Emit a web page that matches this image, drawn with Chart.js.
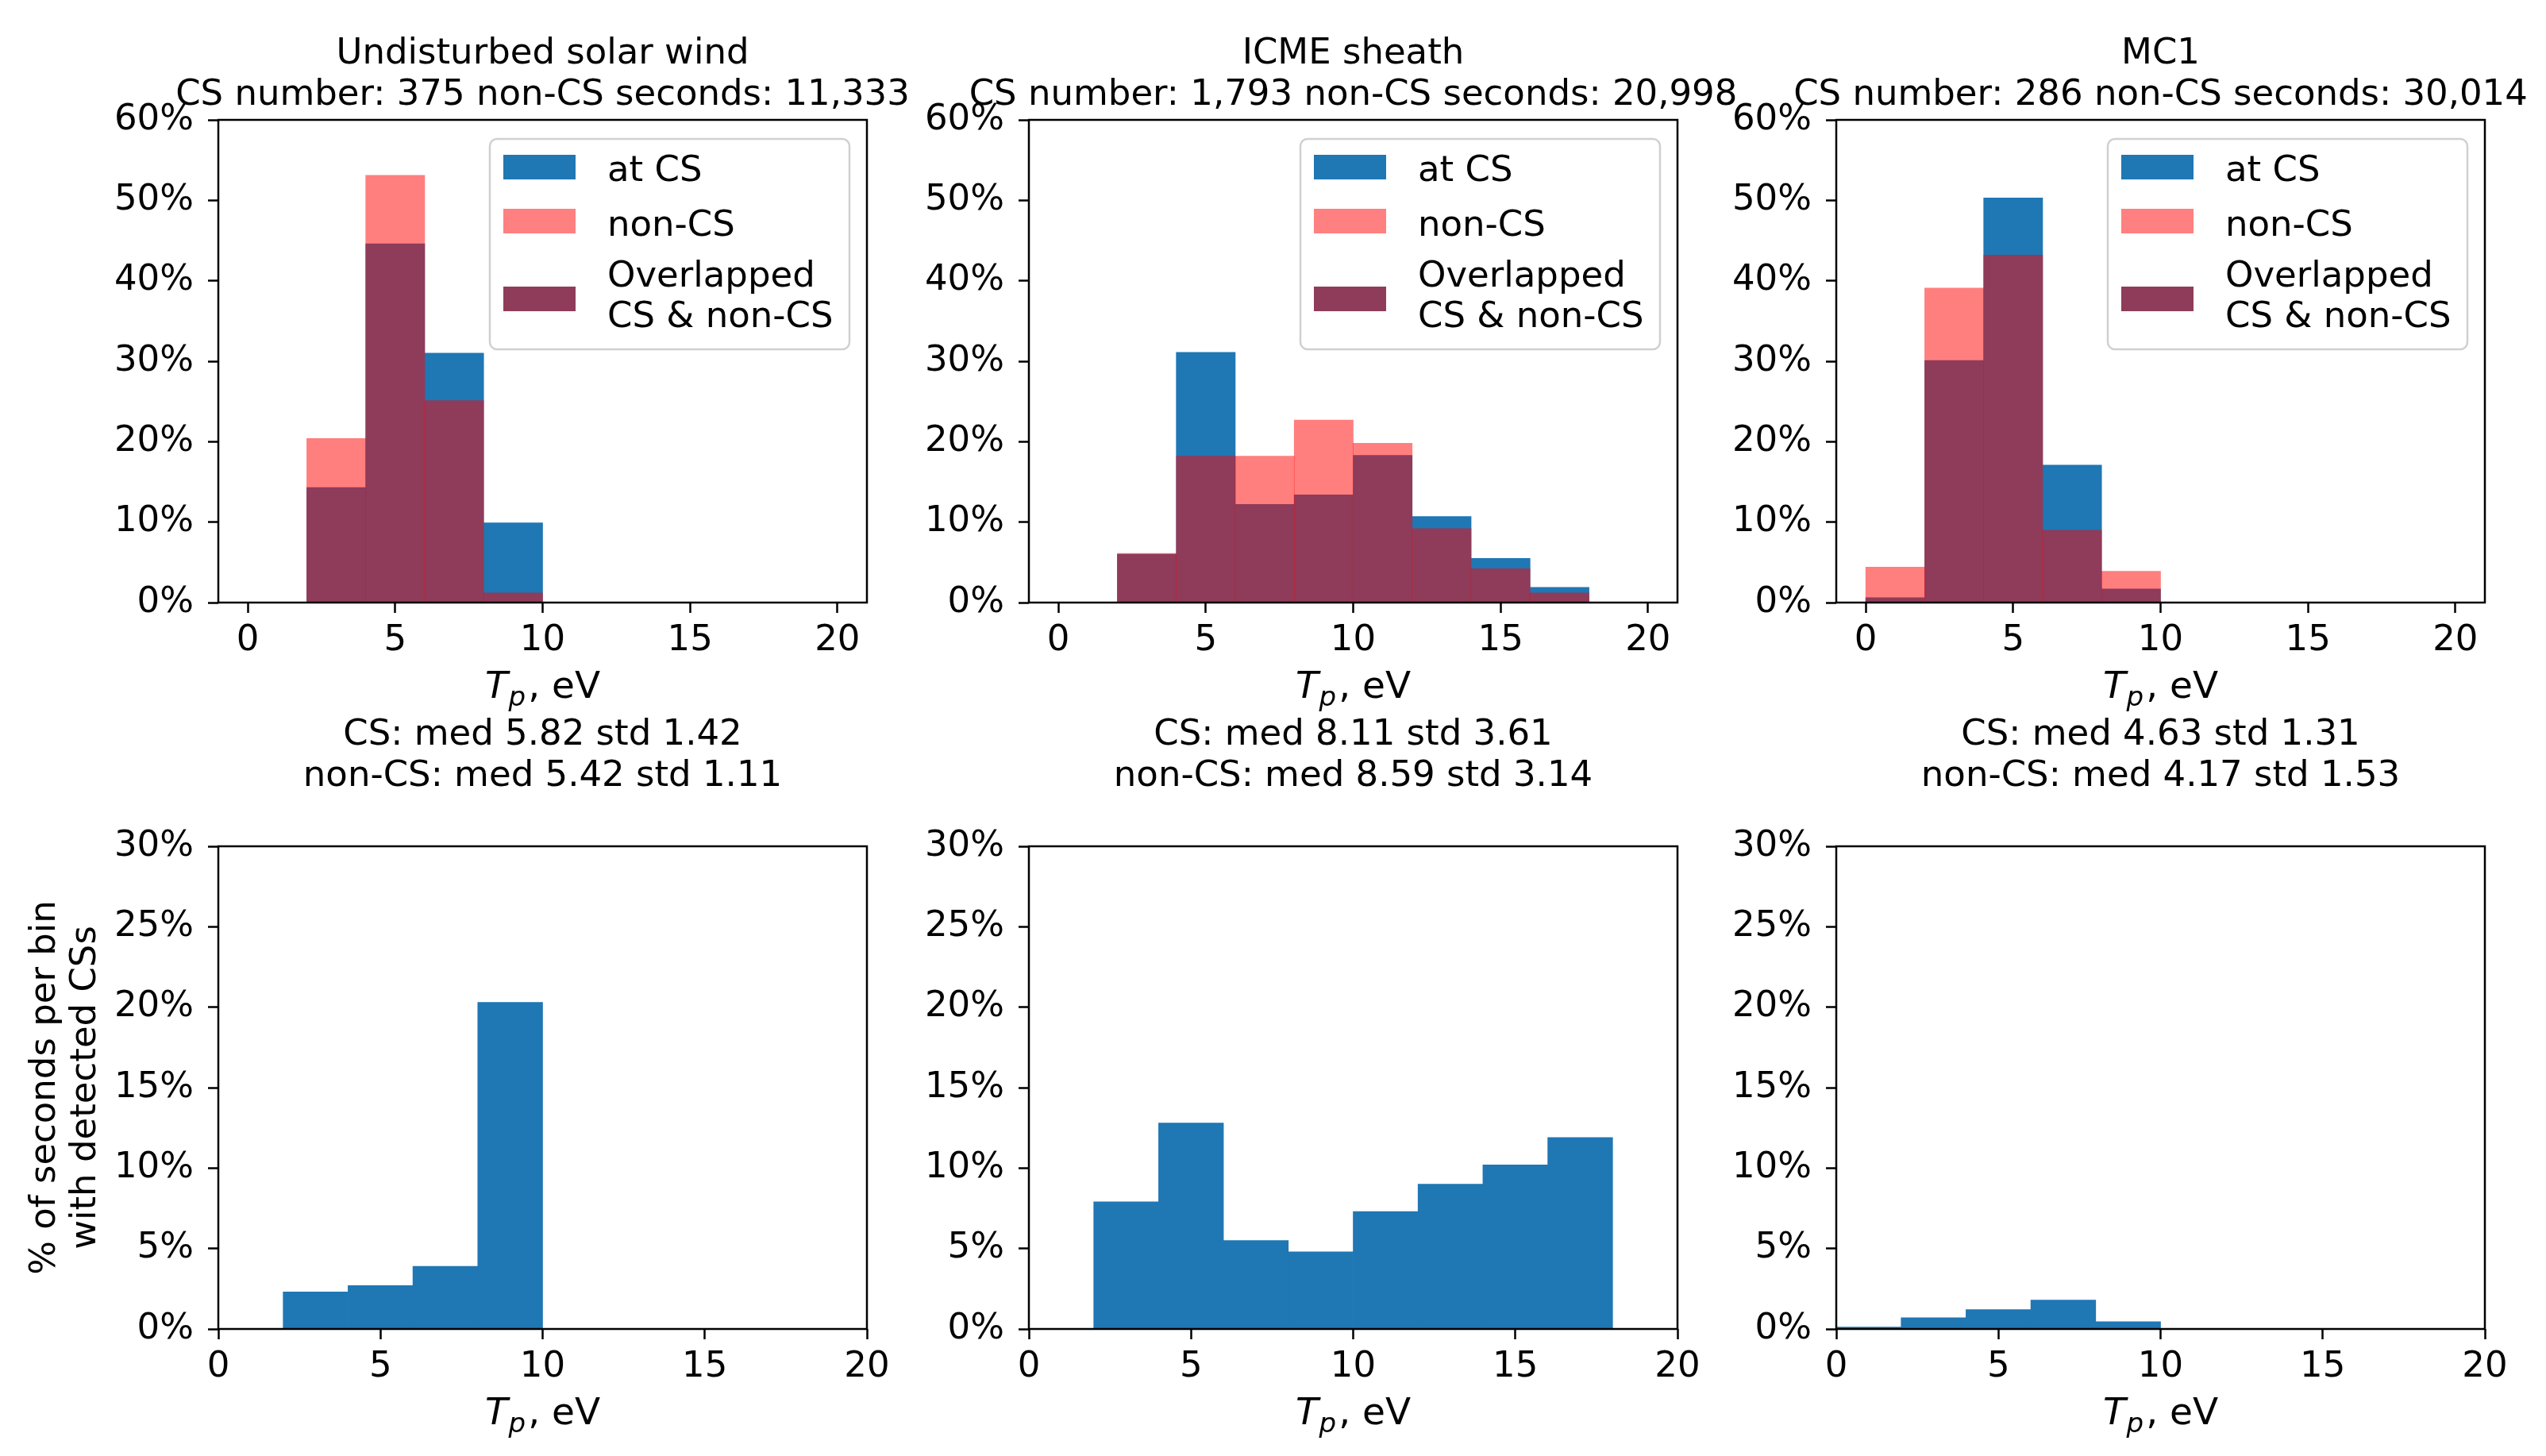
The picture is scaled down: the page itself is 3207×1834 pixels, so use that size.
<!DOCTYPE html>
<html>
<head>
<meta charset="utf-8">
<title>Tp at CS and non-CS</title>
<script src="https://cdn.jsdelivr.net/npm/chart.js@4.4.1/dist/chart.umd.min.js"></script>
<style>
    body { margin: 0; background: #ffffff; }
    #figure { position: relative; width: 3207px; height: 1834px; overflow: hidden; }
    #figure canvas { position: absolute; }
</style>
</head>
<body>
<div id="figure"></div>
<script>
// histogram bins are 2 eV wide: 0-2, 2-4, ... 18-20 (centres)
const binCenters = [1, 3, 5, 7, 9, 11, 13, 15, 17, 19];
const xTicks = [0, 5, 10, 15, 20];
const yTicksTop = [0, 10, 20, 30, 40, 50, 60];
const yTicksBottom = [0, 5, 10, 15, 20, 25, 30];

const regionNames = ["Undisturbed solar wind", "ICME sheath", "MC1"];
const csNumbers = ["375", "1,793", "286"];
const nonCsSeconds = ["11,333", "20,998", "30,014"];
const csMedian = ["5.82", "8.11", "4.63"];
const csStd = ["1.42", "3.61", "1.31"];
const nonCsMedian = ["5.42", "8.59", "4.17"];
const nonCsStd = ["1.11", "3.14", "1.53"];

// top row: % of CS / non-CS seconds per bin
const atCsWind   = [0, 14.3, 44.6, 31.0, 9.9, 0, 0, 0, 0, 0];
const nonCsWind  = [0, 20.4, 53.1, 25.1, 1.2, 0, 0, 0, 0, 0];
const atCsSheath  = [0, 6.0, 31.1, 12.2, 13.4, 18.3, 10.7, 5.5, 1.9, 0];
const nonCsSheath = [0, 6.1, 18.2, 18.2, 22.7, 19.8, 9.2, 4.2, 1.2, 0];
const atCsMC  = [0.6, 30.1, 50.3, 17.1, 1.7, 0, 0, 0, 0, 0];
const nonCsMC = [4.4, 39.1, 43.2, 9.0, 3.9, 0, 0, 0, 0, 0];

// bottom row: % of seconds per bin with detected CSs
const withCsWind   = [0, 2.3, 2.7, 3.9, 20.3, 0, 0, 0, 0, 0];
const withCsSheath = [0, 7.9, 12.8, 5.5, 4.8, 7.3, 9.0, 10.2, 11.9, 0];
const withCsMC     = [0.12, 0.7, 1.2, 1.8, 0.45, 0, 0, 0, 0, 0];

const atCs = [atCsWind, atCsSheath, atCsMC];
const nonCs = [nonCsWind, nonCsSheath, nonCsMC];
const withCs = [withCsWind, withCsSheath, withCsMC];

const legendLabels = [["at CS"], ["non-CS"], ["Overlapped", "CS & non-CS"]];
const yLabelLines = ["% of seconds per bin", "with detected CSs"];

const FAMILY = '"DejaVu Sans"';
const FS = 45;
const BLUE = "#1f77b4";
const RED_HALF = "rgba(255, 0, 0, 0.5)";
const legendColors = ["#1f77b4", "#ff8080", "#8f3c5a"];

Chart.defaults.font.family = FAMILY;
Chart.defaults.font.size = FS;
Chart.defaults.color = "#000000";

// layout of the panels (pixels)
const plotLeft = [275, 1296, 2313];
const plotWidth = 817;

function roundedBox(ctx, x, y, w, h, r) {
    ctx.beginPath();
    ctx.moveTo(x + r, y);
    ctx.lineTo(x + w - r, y);
    ctx.arcTo(x + w, y, x + w, y + r, r);
    ctx.lineTo(x + w, y + h - r);
    ctx.arcTo(x + w, y + h, x + w - r, y + h, r);
    ctx.lineTo(x + r, y + h);
    ctx.arcTo(x, y + h, x, y + h - r, r);
    ctx.lineTo(x, y + r);
    ctx.arcTo(x, y, x + r, y, r);
    ctx.closePath();
}

function drawXLabel(ctx, cx, baseline) {
    const small = 34;
    ctx.font = "italic " + (FS + 2) + "px " + FAMILY;
    const wT = ctx.measureText("T").width;
    ctx.font = "italic " + small + "px " + FAMILY;
    const wp = ctx.measureText("p").width;
    ctx.font = (FS + 2) + "px " + FAMILY;
    const wr = ctx.measureText(", eV").width;
    let x = cx - (wT + wp + wr + 4) / 2;
    ctx.textAlign = "left";
    ctx.textBaseline = "alphabetic";
    ctx.font = "italic " + (FS + 2) + "px " + FAMILY;
    ctx.fillText("T", x, baseline);
    x += wT + 1;
    ctx.font = "italic " + small + "px " + FAMILY;
    ctx.fillText("p", x, baseline + 10);
    x += wp + 3;
    ctx.font = (FS + 2) + "px " + FAMILY;
    ctx.fillText(", eV", x, baseline);
}

function drawLegend(ctx, a) {
    const w = 453, h = 265;
    const x = a.right - 22 - w, y = a.top + 24;
    roundedBox(ctx, x, y, w, h, 9);
    ctx.fillStyle = "rgba(255,255,255,0.8)";
    ctx.fill();
    ctx.strokeStyle = "#d0d0d0";
    ctx.lineWidth = 2.5;
    ctx.stroke();
    const swatchTop = [20, 88, 186];
    const baselines = [[53], [122], [186, 237]];
    ctx.font = FS + "px " + FAMILY;
    ctx.textAlign = "left";
    ctx.textBaseline = "alphabetic";
    legendLabels.forEach((lines, i) => {
        ctx.fillStyle = legendColors[i];
        ctx.fillRect(x + 17, y + swatchTop[i], 91, 31);
        ctx.fillStyle = "#000000";
        lines.forEach((t, j) => ctx.fillText(t, x + 148, y + baselines[i][j]));
    });
}

const panelText = {
    id: "panelText",
    afterDraw(chart, args, opts) {
        const ctx = chart.ctx;
        const a = chart.chartArea;
        const cx = (a.left + a.right) / 2;
        ctx.save();
        ctx.strokeStyle = "#000000";
        ctx.lineWidth = 2.5;
        ctx.strokeRect(a.left, a.top, a.right - a.left, a.bottom - a.top);

        ctx.fillStyle = "#000000";
        ctx.font = FS + "px " + FAMILY;
        ctx.textAlign = "center";
        ctx.textBaseline = "alphabetic";
        const n = opts.titleLines.length;
        opts.titleLines.forEach((t, i) => {
            ctx.fillText(t, cx, a.top - opts.titleGap - (n - 1 - i) * 52);
        });

        drawXLabel(ctx, cx, a.bottom + 120);

        if (opts.legend) drawLegend(ctx, a);

        if (opts.yLabel) {
            const cy = (a.top + a.bottom) / 2;
            ctx.font = FS + "px " + FAMILY;
            ctx.textAlign = "center";
            ctx.textBaseline = "middle";
            ctx.fillStyle = "#000000";
            yLabelLines.forEach((t, i) => {
                ctx.save();
                ctx.translate(a.left - 218 + i * 51, cy);
                ctx.rotate(-Math.PI / 2);
                ctx.fillText(t, 0, 0);
                ctx.restore();
            });
        }
        ctx.restore();
    }
};

function points(values) {
    return binCenters.map((x, i) => ({ x: x, y: values[i] }));
}

function makePanel(col, row) {
    const top = row === 0;
    const canvas = document.createElement("canvas");
    const cLeft = plotLeft[col] - 275;
    const cTop = top ? 0 : 880;
    const cW = 275 + plotWidth + 80;
    const cH = top ? 900 : 954;
    canvas.width = cW;
    canvas.height = cH;
    canvas.style.left = cLeft + "px";
    canvas.style.top = cTop + "px";
    canvas.style.width = cW + "px";
    canvas.style.height = cH + "px";
    document.getElementById("figure").appendChild(canvas);

    const datasets = top ? [
        { label: "at CS", data: points(atCs[col]), backgroundColor: BLUE, order: 2 },
        { label: "non-CS", data: points(nonCs[col]), backgroundColor: RED_HALF, order: 1 }
    ] : [
        { label: "with CSs", data: points(withCs[col]), backgroundColor: BLUE }
    ];

    const titleLines = top
        ? [regionNames[col], "CS number: " + csNumbers[col] + " non-CS seconds: " + nonCsSeconds[col]]
        : ["CS: med " + csMedian[col] + " std " + csStd[col],
           "non-CS: med " + nonCsMedian[col] + " std " + nonCsStd[col]];

    const yTicks = top ? yTicksTop : yTicksBottom;

    new Chart(canvas, {
        type: "bar",
        data: { datasets: datasets },
        plugins: [panelText],
        options: {
            responsive: false,
            animation: false,
            devicePixelRatio: 1,
            layout: { padding: { left: 115, right: 80, top: top ? 151 : 186, bottom: top ? 11 : 30 } },
            datasets: { bar: { barPercentage: 1, categoryPercentage: 1, grouped: false, borderWidth: 0 } },
            plugins: {
                legend: { display: false },
                tooltip: { enabled: false },
                panelText: {
                    titleLines: titleLines,
                    titleGap: top ? 19 : 76,
                    legend: top,
                    yLabel: !top && col === 0
                }
            },
            scales: {
                x: {
                    type: "linear",
                    min: top ? -1 : 0,
                    max: top ? 21 : 20,
                    offset: false,
                    afterBuildTicks: s => { s.ticks = xTicks.map(v => ({ value: v })); },
                    afterFit: s => { s.height = 130; },
                    border: { display: false },
                    grid: { display: true, offset: false, drawOnChartArea: false, drawTicks: true, tickLength: 13, tickWidth: 2.5, tickColor: "#000000" },
                    ticks: { padding: 8, maxRotation: 0, autoSkip: false, color: "#000000", font: { size: FS } }
                },
                y: {
                    min: 0,
                    max: yTicks[yTicks.length - 1],
                    afterBuildTicks: s => { s.ticks = yTicks.map(v => ({ value: v })); },
                    afterFit: s => { s.width = 160; },
                    border: { display: false },
                    grid: { display: true, offset: false, drawOnChartArea: false, drawTicks: true, tickLength: 13, tickWidth: 2.5, tickColor: "#000000" },
                    ticks: { padding: 18, autoSkip: false, color: "#000000", font: { size: FS }, callback: v => v + "%" }
                }
            }
        }
    });
}

for (let row = 0; row < 2; row++) {
    for (let col = 0; col < 3; col++) {
        makePanel(col, row);
    }
}
</script>
</body>
</html>
